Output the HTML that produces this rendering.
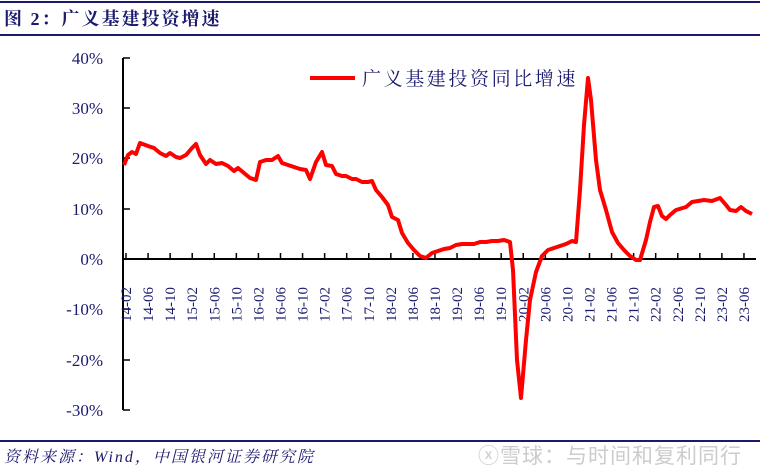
<!DOCTYPE html>
<html><head><meta charset="utf-8"><style>
body{margin:0;background:#fff;width:760px;height:471px;overflow:hidden;}
svg{display:block}
</style></head><body>
<svg width="760" height="471" xmlns="http://www.w3.org/2000/svg" font-family="Liberation Serif, Noto Serif CJK SC, serif">
<line x1="0" y1="2" x2="760" y2="2" stroke="#1a1a6e" stroke-width="2"/>
<line x1="0" y1="35" x2="760" y2="35" stroke="#1a1a6e" stroke-width="2"/>
<text x="4" y="25" font-size="18" font-weight="bold" fill="#1a1a6e" letter-spacing="2">图 2：广义基建投资增速</text>
<line x1="0" y1="441" x2="760" y2="441" stroke="#1a1a6e" stroke-width="2"/>
<text x="4" y="462" font-size="16" font-style="italic" fill="#1a1a6e" letter-spacing="2">资料来源：Wind，中国银河证券研究院</text>
<text x="478" y="463" font-size="21" fill="#ccc" font-family="Noto Sans CJK SC, sans-serif" letter-spacing="1">ⓧ雪球：与时间和复利同行</text>
<g stroke="#000" stroke-width="2">
<line x1="123" y1="58" x2="123" y2="410"/>
<line x1="123" y1="259" x2="756" y2="259"/>
</g>
<g stroke="#000" stroke-width="1.5">
<line x1="123" y1="58" x2="130" y2="58"/><line x1="123" y1="108" x2="130" y2="108"/>
<line x1="123" y1="158" x2="130" y2="158"/><line x1="123" y1="209" x2="130" y2="209"/>
<line x1="123" y1="309" x2="130" y2="309"/><line x1="123" y1="360" x2="130" y2="360"/>
<line x1="123" y1="410" x2="130" y2="410"/>
</g>
<g font-size="17" fill="#1a1a6e" text-anchor="end">
<text x="103" y="64">40%</text><text x="103" y="114">30%</text><text x="103" y="164">20%</text>
<text x="103" y="215">10%</text><text x="103" y="265">0%</text><text x="103" y="315">-10%</text>
<text x="103" y="366">-20%</text><text x="103" y="416">-30%</text>
</g>
<g id="xt" font-size="15" fill="#1a1a6e"></g>
<g stroke="#000" stroke-width="1.5" id="tk"></g>
<polyline fill="none" stroke="#f00" stroke-width="4" stroke-linejoin="round" points="124,165 128,155 132,152 136,154 140,143 148,146 154,148 160,153 166,156 170,153 176,157 180,158 186,155 192,148 196,144 200,155 206,164 210,160 216,164 222,163 228,166 234,171 238,168 244,173 250,178 256,180 260,162 266,160 272,160 278,156 282,163 288,165 294,167 300,169 306,170 310,179 316,162 322,152 326,165 332,166 336,174 342,176 346,176 352,179 356,179 362,182 368,182 372,181 376,190 382,197 388,205 392,217 398,220 402,233 408,243 414,250 420,256 426,258 432,253 438,251 444,249 450,248 456,245 462,244 468,244 474,244 480,242 486,242 492,241 498,241 504,240 510,242 513,270 517,360 521,398 526,340 530,300 536,272 542,256 548,250 554,248 560,246 566,244 572,241 576,242 580,190 584,125 588,78 591,100 596,160 600,190 606,210 612,232 618,243 624,250 630,256 636,260 640,260 646,240 650,222 654,207 658,206 662,216 666,219 670,215 676,210 686,207 692,202 704,200 712,201 720,198 726,205 730,210 736,211 741,207 746,211 752,214"/>
<line x1="310" y1="78" x2="355" y2="78" stroke="#f00" stroke-width="4"/>
<text x="362" y="85" font-size="19" fill="#1a1a6e" letter-spacing="2.6">广义基建投资同比增速</text>
<script>
var labs=["14-02","14-06","14-10","15-02","15-06","15-10","16-02","16-06","16-10","17-02","17-06","17-10","18-02","18-06","18-10","19-02","19-06","19-10","20-02","20-06","20-10","21-02","21-06","21-10","22-02","22-06","22-10","23-02","23-06"];
var g=document.getElementById('xt'),t=document.getElementById('tk'),ns="http://www.w3.org/2000/svg";
labs.forEach(function(l,i){var x=126+i*22.07;
var e=document.createElementNS(ns,'text');e.setAttribute('transform','translate('+(x+5)+',322) rotate(-90)');e.textContent=l;g.appendChild(e);
var k=document.createElementNS(ns,'line');k.setAttribute('x1',x);k.setAttribute('x2',x);k.setAttribute('y1',253);k.setAttribute('y2',259);t.appendChild(k);});
</script>
</svg>
</body></html>
